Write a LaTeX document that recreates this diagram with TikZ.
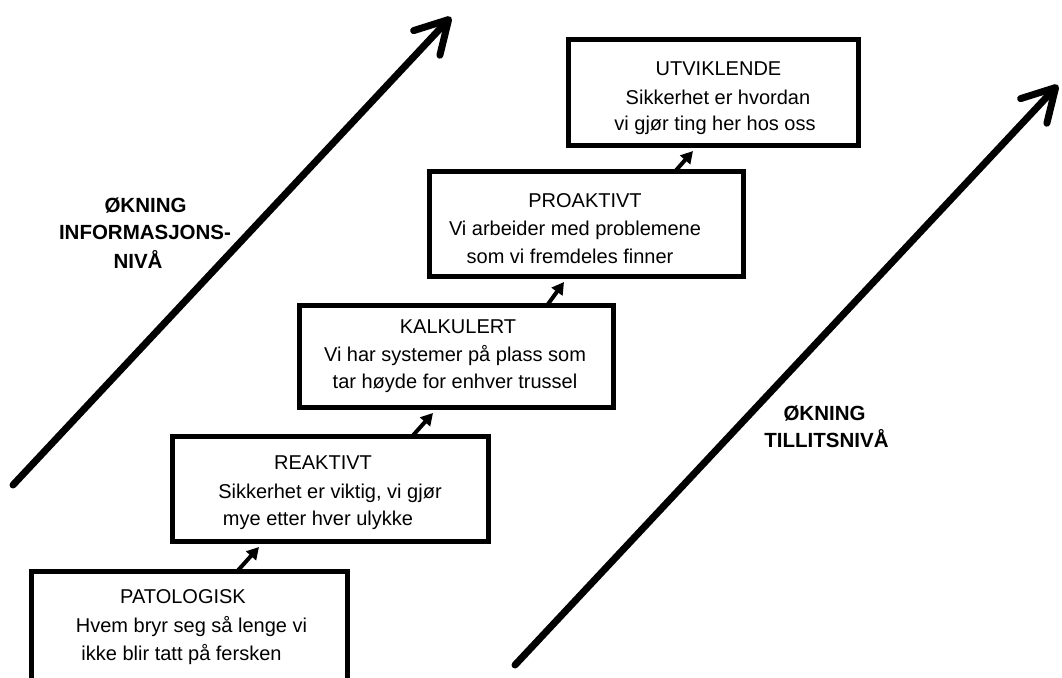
\documentclass[tikz,border=0pt]{standalone}
\usepackage{fontspec}
\setmainfont{Liberation Sans}
\usetikzlibrary{arrows.meta}

\begin{document}
\begin{tikzpicture}[x=1pt,y=-1pt,
  level/.style={draw, line width=5pt, outer sep=0pt, inner sep=0pt},
  txt/.style={anchor=base, inner sep=0pt, font=\fontsize{20}{24}\selectfont},
  side/.style={anchor=base, inner sep=0pt, font=\fontsize{20.5}{24}\selectfont\bfseries},
  step arrow/.style={line width=4pt, -{Triangle[length=12pt,width=13pt]}},
  big arrow/.style={line width=7pt, line cap=round,
    -{Straight Barb[length=32pt,width=36pt,line cap=round,line join=round]}}]

\useasboundingbox (0,0) rectangle (1062,677);

% the five maturity levels
\node[level, minimum width=290pt, minimum height=106pt] (utv) at (713.5,92.5) {};
\node[level, minimum width=314pt, minimum height=105pt] (pro) at (586.5,224) {};
\node[level, minimum width=314pt, minimum height=102pt] (kalk) at (456.5,356.5) {};
\node[level, minimum width=316pt, minimum height=105pt] (reak) at (330.5,489) {};
\node[level, minimum width=316pt, minimum height=118.5pt] (pat) at (189.5,630.75) {};

% level texts
\node[txt] (utv1) at (718.5,75) {UTVIKLENDE};
\node[txt] (utv2) at (718,104) {Sikkerhet er hvordan};
\node[txt] (utv3) at (715,130) {vi gjør ting her hos oss};

\node[txt] (pro1) at (585,207) {PROAKTIVT};
\node[txt] (pro2) at (575,235) {Vi arbeider med problemene};
\node[txt] (pro3) at (570,263) {som vi fremdeles finner};

\node[txt] (kalk1) at (458,333) {KALKULERT};
\node[txt] (kalk2) at (455,361) {Vi har systemer på plass som};
\node[txt] (kalk3) at (455,388) {tar høyde for enhver trussel};

\node[txt] (reak1) at (323,469) {REAKTIVT};
\node[txt] (reak2) at (330,498) {Sikkerhet er viktig, vi gjør};
\node[txt] (reak3) at (318,525) {mye etter hver ulykke};

\node[txt] (pat1) at (183,603) {PATOLOGISK};
\node[txt] (pat2) at (191.5,632) {Hvem bryr seg så lenge vi};
\node[txt] (pat3) at (181.5,660) {ikke blir tatt på fersken};

% short arrows from one level to the next
\draw[step arrow] ([xshift=205.5pt]pat.north west) -- ([xshift=86.5pt,yshift=-5.5pt]reak.south west);
\draw[step arrow] ([xshift=239.5pt]reak.north west) -- ([xshift=133.5pt,yshift=-5.5pt]kalk.south west);
\draw[step arrow] ([xshift=247.5pt]kalk.north west) -- ([xshift=134.5pt,yshift=-5.5pt]pro.south west);
\draw[step arrow] ([xshift=245.5pt]pro.north west) -- ([xshift=124.5pt,yshift=-5.5pt]utv.south west);

% long arrows along both sides
\coordinate (infoTail) at (13,485);
\coordinate (infoTip) at (451,17);
\coordinate (tillitTail) at (515,665);
\coordinate (tillitTip) at (1058,85);
\draw[big arrow] (infoTail) -- (infoTip);
\draw[big arrow] (tillitTail) -- (tillitTip);

% side labels
\node[side] (info1) at (145.5,212) {ØKNING};
\node[side] (info2) at (145,239) {INFORMASJONS-};
\node[side] (info3) at (138,268) {NIVÅ};

\node[side] (till1) at (824.5,420) {ØKNING};
\node[side] (till2) at (826.5,447) {TILLITSNIVÅ};

\end{tikzpicture}
\end{document}
